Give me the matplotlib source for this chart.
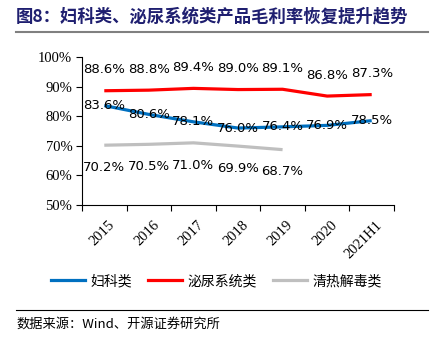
import numpy as np
import matplotlib.pyplot as plt
from matplotlib.lines import Line2D

plt.rcParams['font.family'] = ['Noto Sans CJK SC', 'DejaVu Sans']

# 年份与各类产品毛利率（%）
years = ['2015', '2016', '2017', '2018', '2019', '2020', '2021H1']
fuke = [83.6, 80.6, 78.1, 76.0, 76.4, 76.9, 78.5]
miniao = [88.6, 88.8, 89.4, 89.0, 89.1, 86.8, 87.3]
qingre = [70.2, 70.5, 71.0, 69.9, 68.7]
y_ticks = [50, 60, 70, 80, 90, 100]

c_blue = '#0070C0'
c_red = '#FF0000'
c_gray = '#BFBFBF'

fig = plt.figure(figsize=(4.33, 3.44), dpi=100)
ax = fig.add_axes([82 / 433, 1 - 205 / 344, (394 - 82) / 433, (205 - 57) / 344])

x = np.arange(len(years))
ax.plot(x, fuke, color=c_blue, lw=2.3, solid_capstyle='butt')
ax.plot(x, miniao, color=c_red, lw=2.3, solid_capstyle='butt')
ax.plot(x[:len(qingre)], qingre, color=c_gray, lw=2.3, solid_capstyle='butt')

lab_kw = dict(ha='center', va='center', fontsize=9.5, family='DejaVu Sans', color='black')
for i, v in enumerate(miniao):
    ax.annotate(f'{v:.1f}%', (i, v), xytext=(0, 15), textcoords='offset points', **lab_kw)
for i, v in enumerate(fuke):
    ax.annotate(f'{v:.1f}%', (i, v), xytext=(0, 0), textcoords='offset points', **lab_kw)
for i, v in enumerate(qingre):
    ax.annotate(f'{v:.1f}%', (i, v), xytext=(0, -16), textcoords='offset points', **lab_kw)

ax.set_xlim(-0.5, len(years) - 0.5)
ax.set_ylim(50, 100)
ax.set_yticks(y_ticks)
ax.set_yticklabels([f'{t}%' for t in y_ticks], family='Liberation Serif', fontsize=10.5)
ax.set_xticks(list(x - 0.5) + [len(years) - 0.5])
ax.set_xticklabels([])
for i, yr in enumerate(years):
    ax.text(i + 0.08, 45.5, yr, rotation=45, ha='right', va='top', family='Liberation Serif',
            fontsize=10.5, rotation_mode='anchor')
ax.tick_params(axis='both', direction='out', length=4, width=0.8, colors='black')
ax.tick_params(axis='y', pad=3)
for s in ['top', 'right']:
    ax.spines[s].set_visible(False)
for s in ['left', 'bottom']:
    ax.spines[s].set_linewidth(0.8)

handles = [Line2D([], [], color=c, lw=2.3) for c in (c_blue, c_red, c_gray)]
fig.legend(handles, ['妇科类', '泌尿系统类', '清热解毒类'], loc='center',
           bbox_to_anchor=(0.5, 1 - 281 / 344), ncol=3, frameon=False,
           fontsize=10, handlelength=2.4, columnspacing=1.2, handletextpad=0.4)

# 标题与分隔线
fig.text(16 / 433, 1 - 16 / 344, '图8：妇科类、泌尿系统类产品毛利率恢复提升趋势',
         fontsize=12.5, fontweight='bold', color='#1F1F70', va='center', ha='left')
fig.add_artist(Line2D([16 / 433, 428 / 433], [1 - 32 / 344] * 2, color='#808080', lw=1.5))
fig.add_artist(Line2D([16 / 433, 428 / 433], [1 - 310 / 344] * 2, color='black', lw=0.8))
fig.text(16 / 433, 1 - 324 / 344, '数据来源：Wind、开源证券研究所', fontsize=9.5,
         va='center', ha='left')

fig.savefig('out.png', dpi=100)
